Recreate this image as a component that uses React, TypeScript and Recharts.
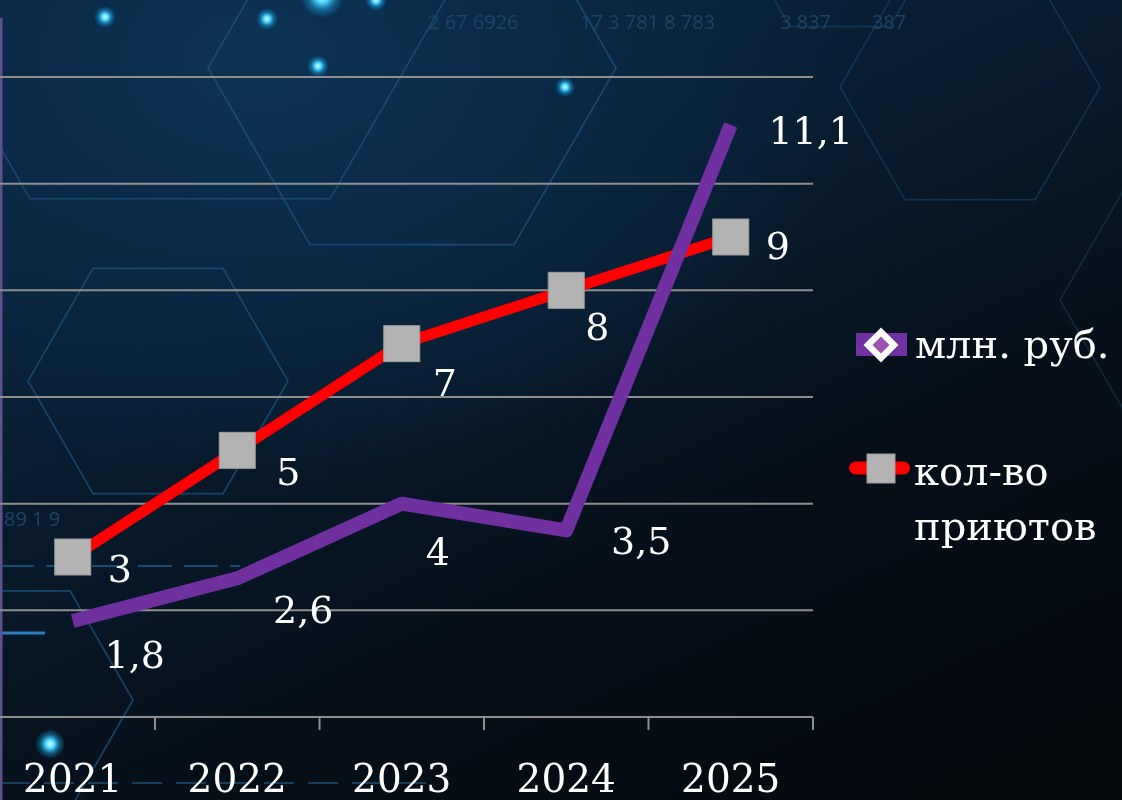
import React from 'react';
import { LineChart, Line, XAxis, YAxis, CartesianGrid, Legend } from 'recharts';

// ---------- data ----------
const years = ['2021', '2022', '2023', '2024', '2025'];
const fundsMln = [1.8, 2.6, 4, 3.5, 11.1];
const shelterCount = [3, 5, 7, 8, 9];
const fundsLabels = ['1,8', '2,6', '4', '3,5', '11,1'];
const shelterLabels = ['3', '5', '7', '8', '9'];
const yTicks = [0, 2, 4, 6, 8, 10, 12];
const fundsName = 'млн. руб.';
const sheltersName = 'кол-во приютов';

const data = years.map((year, i) => ({ year, funds: fundsMln[i], shelters: shelterCount[i] }));

// ---------- layout / style ----------
const SHIFT = 30; // chart is shifted left so the first band starts off-page
const CHART_W = 1122 + SHIFT;
const CHART_H = 800;
const X_AXIS_H = 83;
const MARGIN = { top: 77, right: 309, bottom: 0, left: 20.5 };
const AXIS_Y = CHART_H - X_AXIS_H;
const FONT = '"DejaVu Serif", serif';
const FS = 38;
const PURPLE = '#7030A0';
const RED = '#FF0000';
const GRAY_MARK = '#B3B3B3';
const GRID = '#8E8E8E';

// label glyph-centre offsets from each point
const fundsLabelOffsets = [[62, 33], [66, 31], [36, 47], [75, 10], [80, 5]];
const shelterLabelOffsets = [[47, 11], [51, 21], [43, 38], [31, 36], [47, 8]];

const makeLabel = (texts: string[], offsets: number[][], values: number[]) => (props: any) => {
  const vb = props.viewBox || {};
  const x = props.x ?? vb.x;
  const y = props.y ?? vb.y;
  let idx = props.index;
  if (idx === undefined || idx === null) idx = values.indexOf(Number(props.value));
  if (x === undefined || y === undefined || idx < 0) return null;
  const [dx, dy] = offsets[idx];
  return (
    <text
      key={`lbl-${idx}`}
      x={x + dx}
      y={y + dy + FS * 0.3645}
      textAnchor="middle"
      fill="#FFFFFF"
      fontSize={FS}
      fontFamily={FONT}
    >
      {texts[idx]}
    </text>
  );
};

const SquareDot = (props: any) => {
  const { cx, cy, index } = props;
  if (cx === undefined || cy === undefined) return null;
  return (
    <rect
      key={`sq-${index}`}
      x={cx - 18}
      y={cy - 18}
      width={36}
      height={36}
      fill={GRAY_MARK}
      stroke="#9C9C9C"
      strokeWidth={1}
    />
  );
};

const YearTick = (props: any) => {
  const { x, payload } = props;
  const half = payload && typeof payload.offset === 'number' && payload.offset > 0 ? payload.offset : 82.25;
  return (
    <g>
      <line x1={x + half} x2={x + half} y1={AXIS_Y} y2={AXIS_Y + 13} stroke={GRID} strokeWidth={2} />
      <text x={x} y={AXIS_Y + 75} textAnchor="middle" fill="#FFFFFF" fontSize={39} fontFamily={FONT}>
        {payload.value}
      </text>
    </g>
  );
};

const LegendContent = (props: any) => {
  const payload: any[] = props.payload || [];
  const funds = payload.find((p) => p.dataKey === 'funds');
  const shelters = payload.find((p) => p.dataKey === 'shelters');
  const fundsColor = funds?.color || PURPLE;
  const sheltersColor = shelters?.color || RED;
  const sheltersText = String(shelters?.value || sheltersName).split(' ');
  return (
    <svg width={292} height={260} style={{ display: 'block', overflow: 'visible' }}>
      <rect x={26} y={33} width={51} height={23} fill={fundsColor} />
      <polygon points="51,27.5 68.5,45 51,62.5 33.5,45" fill="#FFFFFF" />
      <polygon points="51,36.5 59.5,45 51,53.5 42.5,45" fill="#9E52B0" />
      <text x={85} y={58} fill="#FFFFFF" fontSize={40} fontFamily={FONT}>
        {funds?.value || fundsName}
      </text>
      <line x1={25.5} x2={73.5} y1={168} y2={168} stroke={sheltersColor} strokeWidth={13} strokeLinecap="round" />
      <rect x={37} y={154} width={28} height={29} fill={GRAY_MARK} stroke="#9C9C9C" strokeWidth={1} />
      <text x={84} y={185} fill="#FFFFFF" fontSize={40} fontFamily={FONT}>
        {sheltersText[0]}
      </text>
      <text x={84} y={240} fill="#FFFFFF" fontSize={40} fontFamily={FONT}>
        {sheltersText.slice(1).join(' ')}
      </text>
    </svg>
  );
};

const hexPoints = (cx: number, cy: number, r: number) => {
  const pts: string[] = [];
  for (let k = 0; k < 6; k++) {
    const a = (Math.PI / 3) * k;
    pts.push(`${cx + r * Math.cos(a)},${cy + r * Math.sin(a)}`);
  }
  return pts.join(' ');
};

const Background = () => (
  <svg width={1122} height={800} style={{ position: 'absolute', left: 0, top: 0 }}>
    <defs>
      <radialGradient id="glow">
        <stop offset="0%" stopColor="#d8fbff" />
        <stop offset="30%" stopColor="#4fd8ff" />
        <stop offset="65%" stopColor="#1a9fe0" stopOpacity={0.45} />
        <stop offset="100%" stopColor="#1a9fe0" stopOpacity={0} />
      </radialGradient>
    </defs>
    <g fill="none" stroke="#1f5582" strokeWidth={1.6} opacity={0.75}>
      <polygon points={hexPoints(180, -61, 300)} />
      <polygon points={hexPoints(412, 68, 204)} />
      <polygon points={hexPoints(158, 381, 130)} />
      <polygon points={hexPoints(970, 87, 130)} opacity={0.6} />
      <polygon points={hexPoints(1185, 300, 125)} opacity={0.5} />
      <polygon points={hexPoints(7, 700, 126)} />
      <polygon points={hexPoints(840, -60, 100)} opacity={0.6} />
    </g>
    <line x1={0} x2={240} y1={566} y2={566} stroke="#1d5a8a" strokeWidth={2} strokeDasharray="34 12" opacity={0.8} />
    <line x1={0} x2={45} y1={633} y2={633} stroke="#2a7fc0" strokeWidth={3} />
    <line x1={0} x2={430} y1={783} y2={783} stroke="#1a4a70" strokeWidth={2} strokeDasharray="30 14" opacity={0.8} />
    <g fill="#1d4566" fontFamily='"Open Sans", sans-serif' fontSize={20}>
      <text x={428} y={29}>2 67 6926</text>
      <text x={580} y={29}>17 3 781 8 783</text>
      <text x={780} y={29}>3 837</text>
      <text x={872} y={29}>387</text>
      <text x={4} y={526}>89 1 9</text>
    </g>
    <circle cx={322} cy={-4} r={22} fill="url(#glow)" />
    <circle cx={105} cy={17} r={11} fill="url(#glow)" />
    <circle cx={267} cy={19} r={11} fill="url(#glow)" />
    <circle cx={318} cy={66} r={11} fill="url(#glow)" />
    <circle cx={376} cy={0} r={11} fill="url(#glow)" />
    <circle cx={565} cy={87} r={10} fill="url(#glow)" />
    <circle cx={50} cy={744} r={15} fill="url(#glow)" />
    <rect x={0} y={18} width={2.5} height={782} fill="#5E508C" />
  </svg>
);

export default function App() {
  return (
    <div
      style={{
        position: 'absolute',
        left: 0,
        top: 0,
        width: 1122,
        height: 800,
        overflow: 'hidden',
        background:
          'radial-gradient(ellipse 760px 520px at 260px 60px, #0c3354 0%, #0a2a47 35%, rgba(9,34,56,0) 80%), linear-gradient(155deg, #0b2a46 0%, #081d31 35%, #060f19 65%, #05080c 100%)',
      }}
    >
      <Background />
      <div style={{ position: 'absolute', left: -SHIFT, top: 0 }}>
        <LineChart width={CHART_W} height={CHART_H} data={data} margin={MARGIN}>
          <CartesianGrid vertical={false} horizontal stroke={GRID} strokeWidth={2} />
          <XAxis
            dataKey="year"
            scale="band"
            height={X_AXIS_H}
            axisLine={{ stroke: GRID, strokeWidth: 2 }}
            tickLine={false}
            tick={<YearTick />}
            interval={0}
          />
          <YAxis hide domain={[0, 12]} ticks={yTicks} type="number" />
          <Legend
            layout="vertical"
            align="center"
            verticalAlign="middle"
            wrapperStyle={{ left: 860, top: 300, width: 292, height: 260 }}
            content={<LegendContent />}
          />
          <Line
            type="linear"
            dataKey="shelters"
            name={sheltersName}
            stroke={RED}
            strokeWidth={11}
            strokeLinejoin="round"
            dot={<SquareDot />}
            activeDot={false}
            isAnimationActive={false}
            label={makeLabel(shelterLabels, shelterLabelOffsets, shelterCount)}
          />
          <Line
            type="linear"
            dataKey="funds"
            name={fundsName}
            stroke={PURPLE}
            strokeWidth={14}
            strokeLinejoin="round"
            dot={false}
            activeDot={false}
            isAnimationActive={false}
            label={makeLabel(fundsLabels, fundsLabelOffsets, fundsMln)}
          />
        </LineChart>
      </div>
    </div>
  );
}
